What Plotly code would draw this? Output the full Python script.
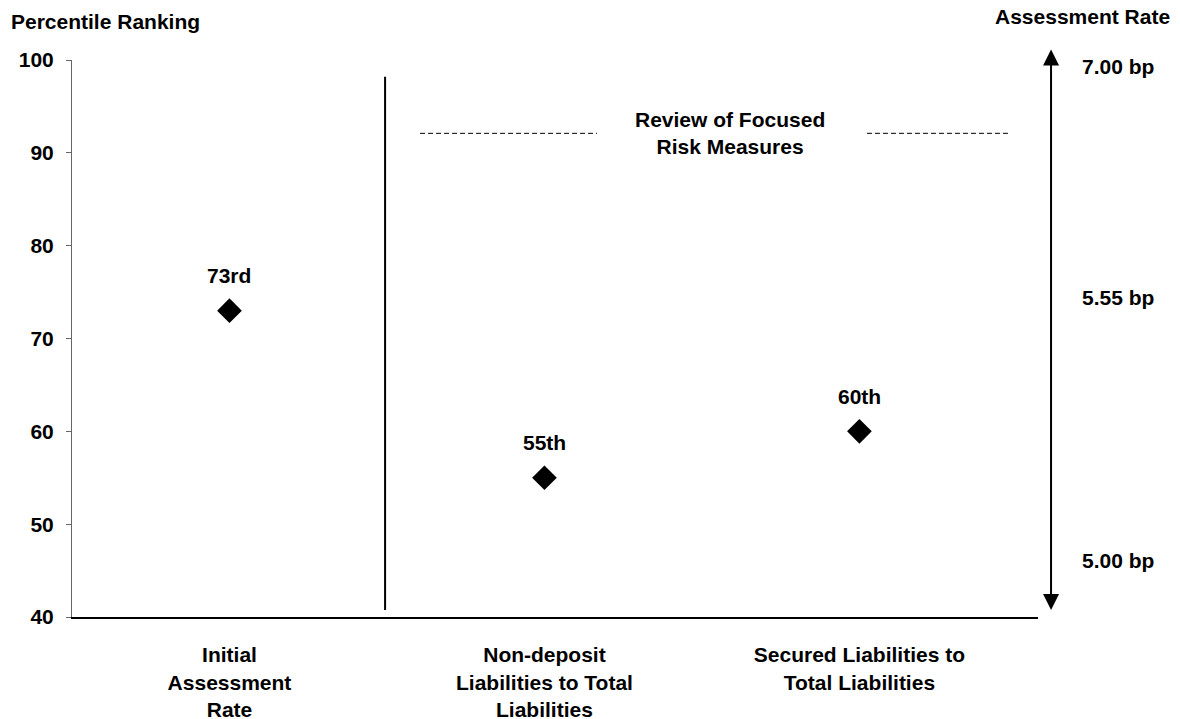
import plotly.graph_objects as go

categories = ["Initial<br>Assessment<br>Rate",
              "Non-deposit<br>Liabilities to Total<br>Liabilities",
              "Secured Liabilities to<br>Total Liabilities"]
percentiles = [73, 55, 60]
point_labels = ["73rd", "55th", "60th"]
y_ticks = [40, 50, 60, 70, 80, 90, 100]
rate_labels = ["7.00 bp", "5.55 bp", "5.00 bp"]
rate_levels = [99.25, 74.4, 46.1]

FONT = "Liberation Sans, Arial, sans-serif"
FS = 21
xpos = list(range(len(categories)))

fig = go.Figure()
fig.add_trace(go.Scatter(
    x=xpos, y=percentiles, mode="markers",
    marker=dict(symbol="diamond", size=19, color="black"),
    showlegend=False, hoverinfo="skip", cliponaxis=False))

def bold(size=FS):
    return dict(family=FONT, size=size, color="black", weight="bold")

annotations = []
for xi, yi, lab in zip(xpos, percentiles, point_labels):
    annotations.append(dict(x=xi, y=yi, text=lab, showarrow=False, yshift=35, font=bold()))

for lab, lv in zip(rate_labels, rate_levels):
    annotations.append(dict(xref="paper", yref="y", x=1.083, y=lv, text=lab, showarrow=False,
                            xanchor="center", font=bold()))

annotations += [
    dict(xref="paper", yref="paper", x=-0.065, y=1.0685, xanchor="left", yanchor="middle",
         text="Percentile Ranking", showarrow=False, font=bold()),
    dict(xref="paper", yref="paper", x=1.1385, y=1.0785, xanchor="right", yanchor="middle",
         text="Assessment Rate", showarrow=False, font=bold()),
    dict(xref="x", yref="y", x=1.589, y=92.1, xanchor="center", yanchor="middle",
         text="Review of Focused<br>Risk Measures", showarrow=False, font=bold()),
    # double-headed arrow for assessment rate scale
    dict(xref="paper", yref="paper", x=1.0135, y=0.0126,
         axref="pixel", ayref="pixel", ax=0, ay=-562,
         text="", showarrow=True, arrowhead=2, startarrowhead=2, arrowside="end+start",
         arrowsize=1.6, startarrowsize=1.6, arrowwidth=2, arrowcolor="black"),
]

shapes = [
    dict(type="line", xref="x", yref="y", x0=0.494, x1=0.494, y0=40.75, y1=98.2,
         line=dict(color="black", width=2)),
    dict(type="line", xref="x", yref="y", x0=0.605, x1=1.167, y0=92.1, y1=92.1,
         line=dict(color="black", width=1, dash="5px,3px")),
    dict(type="line", xref="x", yref="y", x0=2.024, x1=2.478, y0=92.1, y1=92.1,
         line=dict(color="black", width=1, dash="5px,3px")),
]

fig.update_layout(
    width=1172, height=711,
    margin=dict(l=64, r=142, t=52, b=102),
    paper_bgcolor="white", plot_bgcolor="white",
    showlegend=False,
    annotations=annotations,
    shapes=shapes,
    xaxis=dict(range=[-0.5, 2.567], tickvals=xpos, ticktext=categories,
               showgrid=False, zeroline=False, showline=True, linecolor="black", linewidth=2,
               ticks="", ticklabelstandoff=18, automargin=False, tickfont=bold()),
    yaxis=dict(range=[40, 100], tickvals=y_ticks, showgrid=False, zeroline=False,
               showline=True, linecolor="#666666", linewidth=1, automargin=False,
               ticks="outside", ticklen=5, tickcolor="#666666", ticklabelstandoff=8,
               tickfont=bold()),
)

fig.write_html("out.html")
